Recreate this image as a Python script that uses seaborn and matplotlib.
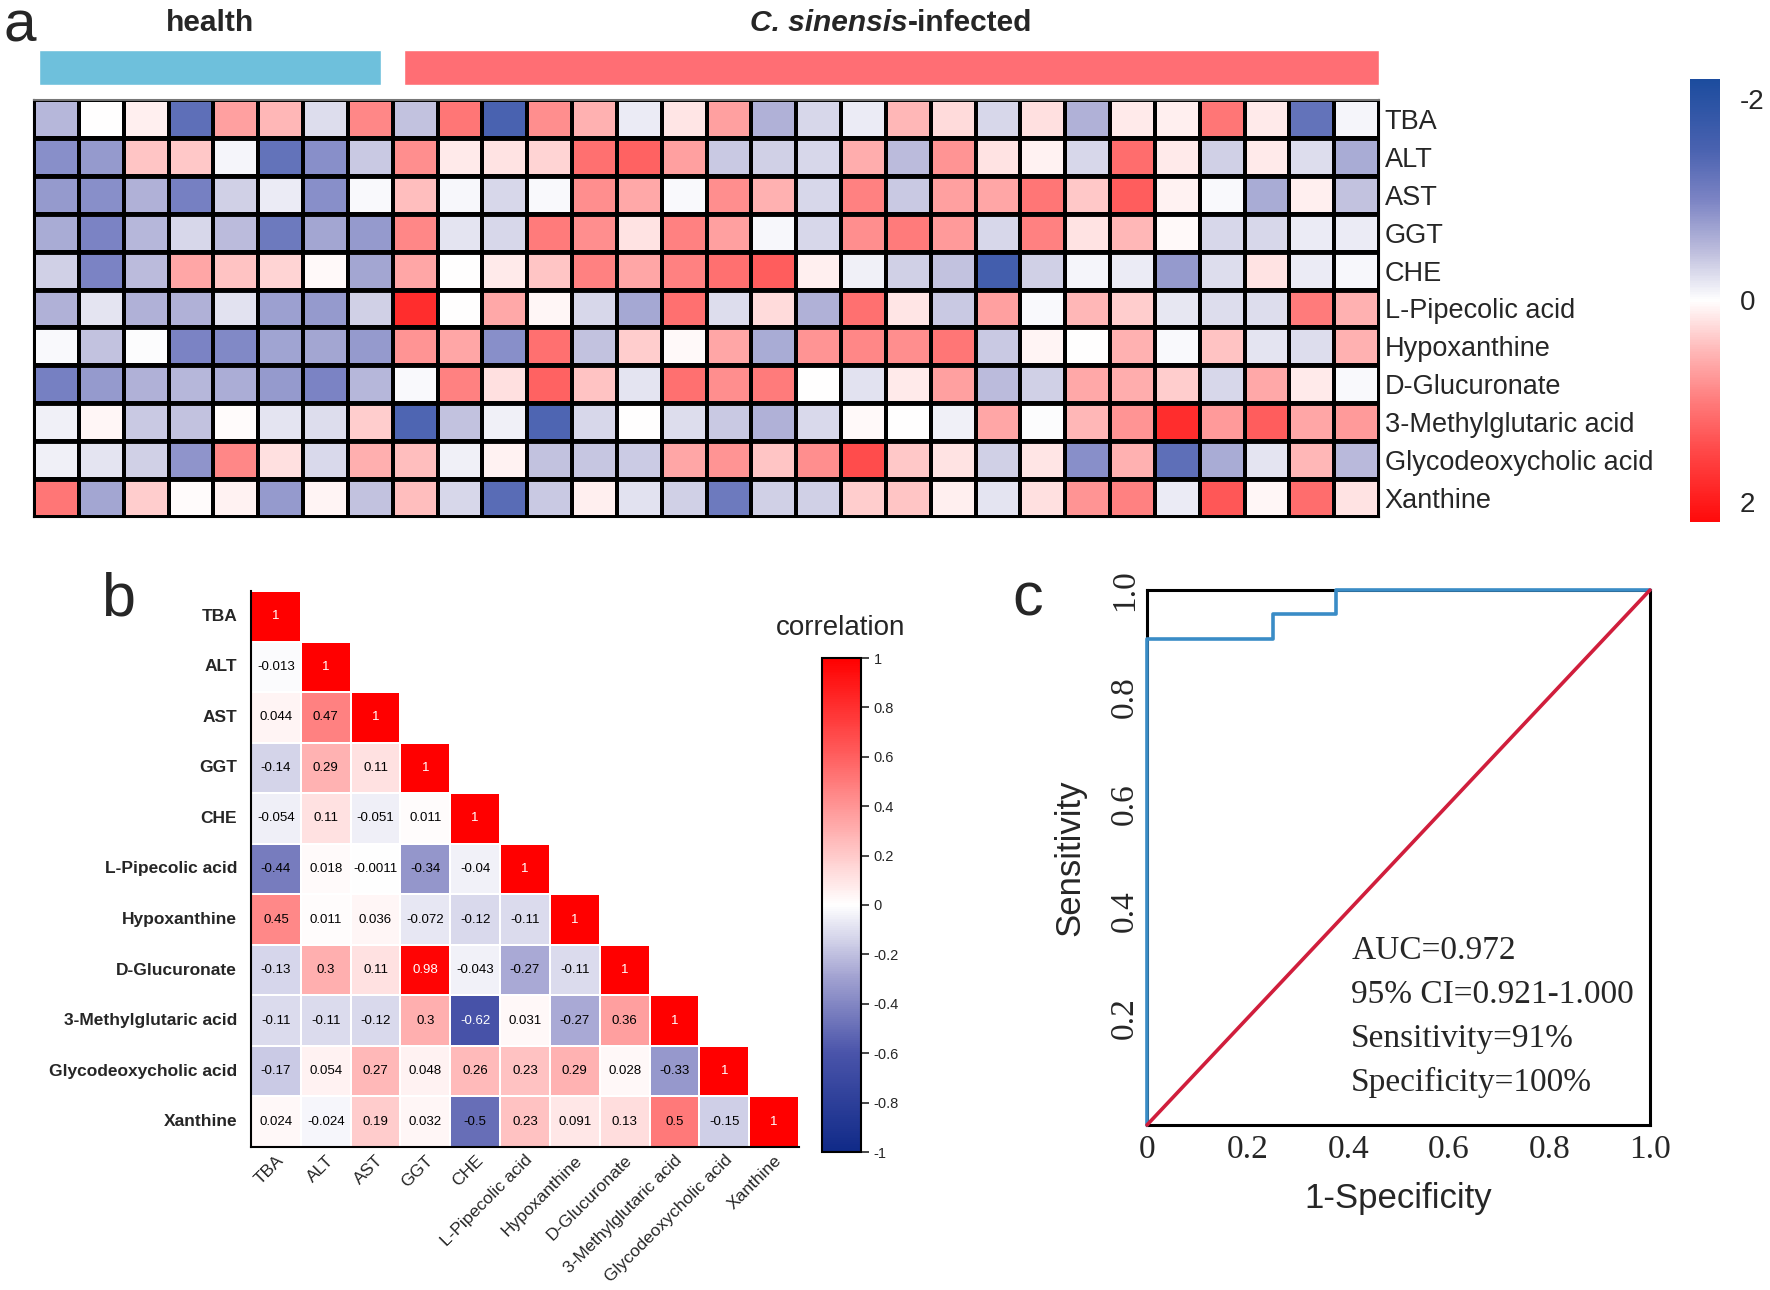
# plot.py
# Three-panel figure: z-score heatmap of biomarkers (a),
# correlation triangle (b) and ROC curve of the combined model (c)

import numpy as np
import pandas as pd
import matplotlib
matplotlib.use('Agg')
import matplotlib.pyplot as plt
import seaborn as sns
from matplotlib import font_manager
from matplotlib.colors import LinearSegmentedColormap
from matplotlib.offsetbox import TextArea, HPacker, AnnotationBbox

# ── DATA ──────────────────────────────────────────────────────────
metabolites = ['TBA', 'ALT', 'AST', 'GGT', 'CHE', 'L-Pipecolic acid',
               'Hypoxanthine', 'D-Glucuronate', '3-Methylglutaric acid',
               'Glycodeoxycholic acid', 'Xanthine']

group_names  = ['health', 'C. sinensis-infected']
group_sizes  = [8, 22]
group_colors = ['#6ec0dc', '#ff6e74']

# scaled values per sample (8 healthy, 22 infected)
tba  = [-0.55, 0.0, 0.12, -1.3, 0.7, 0.5, -0.25, 0.9, -0.45, 1.05,
        -1.5, 0.85, 0.55, -0.15, 0.18, 0.7, -0.6, -0.3, -0.15, 0.5,
        0.25, -0.3, 0.22, -0.6, 0.15, 0.12, 1.05, 0.15, -1.25, -0.08]
alt  = [-0.9, -0.8, 0.4, 0.38, -0.07, -1.25, -0.9, -0.4, 0.85, 0.15,
        0.2, 0.3, 1.1, 1.25, 0.7, -0.4, -0.35, -0.3, 0.6, -0.5,
        0.8, 0.2, 0.1, -0.3, 1.15, 0.15, -0.35, 0.15, -0.25, -0.65]
ast  = [-0.8, -0.9, -0.6, -1.05, -0.35, -0.15, -0.9, -0.05, 0.45, -0.06,
        -0.3, -0.05, 0.85, 0.62, -0.05, 0.85, 0.55, -0.3, 0.95, -0.4,
        0.7, 0.65, 1.05, 0.38, 1.3, 0.1, -0.05, -0.65, 0.12, -0.45]
ggt  = [-0.65, -1.0, -0.55, -0.3, -0.5, -1.15, -0.7, -0.8, 0.9, -0.2,
        -0.3, 1.0, 0.85, 0.2, 0.95, 0.7, -0.06, -0.3, 0.85, 1.0,
        0.75, -0.3, 0.95, 0.2, 0.5, 0.04, -0.3, -0.3, -0.15, -0.15]
che  = [-0.35, -1.0, -0.5, 0.65, 0.42, 0.3, 0.04, -0.7, 0.65, 0.0,
        0.15, 0.4, 0.95, 0.65, 0.95, 1.1, 1.3, 0.12, -0.12, -0.35,
        -0.45, -1.6, -0.35, -0.08, -0.15, -0.8, -0.25, 0.2, -0.15, -0.06]
lpa  = [-0.6, -0.2, -0.6, -0.6, -0.22, -0.75, -0.8, -0.35, 1.8, 0.0,
        0.62, 0.06, -0.3, -0.68, 1.1, -0.25, 0.25, -0.6, 1.1, 0.18,
        -0.4, 0.7, -0.04, 0.5, 0.35, -0.18, -0.25, -0.25, 1.0, 0.55]
hyp  = [-0.04, -0.45, -0.02, -1.0, -0.95, -0.72, -0.7, -0.8, 0.8, 0.65,
        -0.9, 1.1, -0.45, 0.35, 0.04, 0.65, -0.65, 0.8, 0.9, 0.85,
        1.05, -0.4, 0.08, 0.0, 0.55, -0.05, 0.42, -0.2, -0.25, 0.55]
dglu = [-1.05, -0.8, -0.6, -0.55, -0.62, -0.8, -1.0, -0.55, -0.05, 0.95,
        0.22, 1.25, 0.42, -0.2, 1.1, 0.85, 1.0, 0.0, -0.22, 0.15,
        0.7, -0.5, -0.35, 0.62, 0.6, 0.35, -0.3, 0.62, 0.15, -0.05]
mga  = [-0.12, 0.06, -0.4, -0.45, 0.02, -0.2, -0.25, 0.35, -1.45, -0.45,
        -0.12, -1.45, -0.3, 0.0, -0.25, -0.4, -0.6, -0.28, 0.04, 0.0,
        -0.12, 0.65, -0.03, 0.5, 0.8, 1.8, 0.75, 1.3, 0.65, 0.75]
gdca = [-0.12, -0.2, -0.35, -0.85, 0.9, 0.22, -0.28, 0.58, 0.45, -0.12,
        0.1, -0.45, -0.42, -0.38, 0.65, 0.8, 0.4, 0.85, 1.45, 0.38,
        0.2, -0.35, 0.18, -0.9, 0.55, -1.3, -0.65, -0.2, 0.5, -0.52]
xan  = [1.05, -0.7, 0.35, 0.02, 0.1, -0.8, 0.08, -0.45, 0.45, -0.3,
        -1.35, -0.4, 0.12, -0.22, -0.35, -1.15, -0.35, -0.35, 0.35, 0.4,
        0.12, -0.2, 0.22, 0.8, 0.95, -0.15, 1.35, 0.06, 1.15, 0.2]

# lower triangle of the correlation matrix (row by row)
corr_rows = [
    [1],
    [-0.013, 1],
    [0.044, 0.47, 1],
    [-0.14, 0.29, 0.11, 1],
    [-0.054, 0.11, -0.051, 0.011, 1],
    [-0.44, 0.018, -0.0011, -0.34, -0.04, 1],
    [0.45, 0.011, 0.036, -0.072, -0.12, -0.11, 1],
    [-0.13, 0.3, 0.11, 0.98, -0.043, -0.27, -0.11, 1],
    [-0.11, -0.11, -0.12, 0.3, -0.62, 0.031, -0.27, 0.36, 1],
    [-0.17, 0.054, 0.27, 0.048, 0.26, 0.23, 0.29, 0.028, -0.33, 1],
    [0.024, -0.024, 0.19, 0.032, -0.5, 0.23, 0.091, 0.13, 0.5, -0.15, 1],
]
corr_ticks = [-1, -0.8, -0.6, -0.4, -0.2, 0, 0.2, 0.4, 0.6, 0.8, 1]

# ROC curve points
roc_fpr = [0.0, 0.0, 0.25, 0.25, 0.375, 0.375, 1.0]
roc_tpr = [0.0, 0.909, 0.909, 0.955, 0.955, 1.0, 1.0]
roc_auc = 0.972
roc_ci = (0.921, 1.000)
roc_sens = 91
roc_spec = 100

# ── STYLE ─────────────────────────────────────────────────────────
sns.set_style('white')
available = {f.name for f in font_manager.fontManager.ttflist}
SANS = 'Liberation Sans' if 'Liberation Sans' in available else 'DejaVu Sans'
NARROW = 'Liberation Sans Narrow' if 'Liberation Sans Narrow' in available else SANS
SERIF = 'Liberation Serif' if 'Liberation Serif' in available else 'DejaVu Serif'
narrow_ok = NARROW != SANS
plt.rcParams['font.family'] = [SANS, 'DejaVu Sans']
plt.rcParams['axes.unicode_minus'] = False

W, H = 1770, 1290
fig = plt.figure(figsize=(W / 100, H / 100), dpi=100)
fig.patch.set_facecolor('white')


def px_axes(x0, y0, x1, y1):
    """axes from pixel box (top-left origin)"""
    return fig.add_axes([x0 / W, 1 - y1 / H, (x1 - x0) / W, (y1 - y0) / H])


# ── PANEL A: HEATMAP ──────────────────────────────────────────────
heat_df = pd.DataFrame([tba, alt, ast, ggt, che, lpa, hyp, dglu, mga, gdca, xan],
                       index=metabolites)

cmap_a = LinearSegmentedColormap.from_list('bwr_a', [
    (0.0, '#1c4c9e'), ((2.2 - 1.5) / 4.4, '#4a62b0'), ((2.2 - 1.0) / 4.4, '#7c84c4'),
    ((2.2 - 0.5) / 4.4, '#bcbcdc'), (0.5, '#ffffff'), ((2.2 + 0.5) / 4.4, '#ffb8b8'),
    ((2.2 + 1.0) / 4.4, '#ff7c7c'), ((2.2 + 1.5) / 4.4, '#ff4848'), (1.0, '#ff0a0a')])

ax_a = px_axes(34, 100, 1379, 517)
cax_a = px_axes(1690, 79, 1720, 522)
sns.heatmap(heat_df, ax=ax_a, cmap=cmap_a, vmin=-2.2, vmax=2.2,
            linewidths=1.5, linecolor='black', cbar_ax=cax_a,
            xticklabels=False, yticklabels=True)
ax_a.hlines(np.arange(1, len(metabolites)), 0, heat_df.shape[1],
            colors='black', lw=3.5)
ax_a.yaxis.tick_right()
ax_a.set_yticklabels(metabolites, rotation=0, ha='left', fontsize=19.5)
ax_a.tick_params(axis='y', length=0, pad=4)
for side, spine in ax_a.spines.items():
    spine.set_visible(True)
    spine.set_color('#777777' if side == 'top' else 'black')
    spine.set_linewidth(1.5)

cbar_a = ax_a.collections[0].colorbar
cbar_a.set_ticks([-2, 0, 2])
cbar_a.ax.invert_yaxis()
cbar_a.outline.set_visible(False)
cbar_a.ax.tick_params(length=0, labelsize=20, pad=14)

# group annotation bars
ax_bar = px_axes(34, 50, 1379, 85)
ax_bar.set_xlim(0, heat_df.shape[1])
ax_bar.set_ylim(0, 1)
ax_bar.axis('off')
starts = np.cumsum([0] + group_sizes[:-1])
for i, (name, size, color, start) in enumerate(zip(group_names, group_sizes,
                                                    group_colors, starts)):
    left = start + (0.12 if i == 0 else 0.25)
    right = start + size - (0.25 if i < len(group_sizes) - 1 else 0)
    ax_bar.barh(0.5, right - left, left=left, height=1, color=color)
    centre = (left + right) / 2
    if name.startswith('C. sinensis'):
        parts = HPacker(children=[
            TextArea('C. sinensis', textprops=dict(size=21.5, weight='bold',
                                                     style='italic', family=SANS)),
            TextArea('-infected', textprops=dict(size=21.5, weight='bold',
                                                   family=SANS))],
            pad=0, sep=0, align='baseline')
        ab = AnnotationBbox(parts, (centre, 1.77), xycoords='data',
                            frameon=False, box_alignment=(0.5, 0.5),
                            annotation_clip=False)
        ax_bar.add_artist(ab)
    else:
        ax_bar.text(centre, 1.77, name, ha='center', va='center',
                    size=21.5, weight='bold', clip_on=False)

# ── PANEL B: CORRELATION TRIANGLE ─────────────────────────────────
n = len(metabolites)
corr = np.zeros((n, n))
for i, row in enumerate(corr_rows):
    corr[i, :len(row)] = row
corr = corr + np.tril(corr, -1).T
corr_df = pd.DataFrame(corr, index=metabolites, columns=metabolites)
mask = np.triu(np.ones_like(corr, dtype=bool), k=1)
labels = np.array([[f'{v:g}' for v in row] for row in corr])

cmap_b = LinearSegmentedColormap.from_list('bwr_b', [
    (0.0, '#102a88'), (0.2, '#4a54aa'), (0.35, '#a0a0d0'), (0.5, '#ffffff'),
    (0.65, '#ffb0b0'), (0.8, '#ff6060'), (1.0, '#ff0000')])

ax_b = px_axes(251, 591, 799, 1147)
cax_b = px_axes(822, 658, 861, 1152)
sns.heatmap(corr_df, mask=mask, ax=ax_b, cmap=cmap_b, vmin=-1, vmax=1,
            annot=labels, fmt='', linewidths=1.2, linecolor='white',
            annot_kws={'size': 11 if narrow_ok else 9.5, 'family': NARROW},
            cbar_ax=cax_b)
for t in ax_b.texts:
    t.set_color('white' if abs(float(t.get_text())) > 0.6 else 'black')

for side in ['left', 'bottom']:
    ax_b.spines[side].set_visible(True)
    ax_b.spines[side].set_color('black')
    ax_b.spines[side].set_linewidth(1.5)
ax_b.set_yticklabels(metabolites, rotation=0, fontweight='bold',
                     family=NARROW, fontsize=15 if narrow_ok else 12.5)
ax_b.set_xticklabels(metabolites, rotation=45, ha='right', rotation_mode='anchor',
                     family=NARROW, fontsize=15.5 if narrow_ok else 12.5)
ax_b.tick_params(axis='y', length=0, pad=10)
ax_b.tick_params(axis='x', length=0, pad=4)

cbar_b = ax_b.collections[0].colorbar
cbar_b.set_ticks(corr_ticks)
cbar_b.set_ticklabels([f'{v:g}' for v in corr_ticks])
cbar_b.outline.set_edgecolor('black')
cbar_b.outline.set_linewidth(1.5)
cbar_b.ax.tick_params(length=6, width=1.2, labelsize=10.5, pad=3)
fig.text(841 / W, 1 - 628 / H, 'correlation', ha='center', va='center', size=20)

# ── PANEL C: ROC CURVE ────────────────────────────────────────────
ax_c = px_axes(1147, 590, 1650, 1125)
sns.lineplot(x=roc_fpr, y=roc_tpr, sort=False, estimator=None, ax=ax_c,
             color='#3a8cc6', lw=2.6, clip_on=False, zorder=3)
ax_c.plot([0, 1], [0, 1], color='#d01e3c', lw=2.6, clip_on=False, zorder=3.5)
ax_c.set_xlim(0, 1)
ax_c.set_ylim(0, 1)
x_ticks = [0, 0.2, 0.4, 0.6, 0.8, 1.0]
y_ticks = [0.2, 0.4, 0.6, 0.8, 1.0]
ax_c.set_xticks(x_ticks)
ax_c.set_xticklabels(['0'] + [f'{v:.1f}' for v in x_ticks[1:]],
                     family=SERIF, fontsize=24)
ax_c.set_yticks(y_ticks)
ax_c.set_yticklabels([f'{v:.1f}' for v in y_ticks], family=SERIF,
                     fontsize=24, rotation=90, va='center')
ax_c.tick_params(axis='x', length=0, pad=7)
ax_c.tick_params(axis='y', length=0, pad=5)
for spine in ax_c.spines.values():
    spine.set_visible(True)
    spine.set_color('black')
    spine.set_linewidth(2.2)

ax_c.set_xlabel('1-Specificity', fontsize=25)
ax_c.xaxis.set_label_coords(0.5, -0.138)
ax_c.xaxis.label.set_verticalalignment('center')
ax_c.set_ylabel('Sensitivity', fontsize=25)
ax_c.yaxis.set_label_coords(-0.153, 0.5)
ax_c.yaxis.label.set_verticalalignment('center')

stats_lines = [f'AUC={roc_auc:.3f}',
               f'95% CI={roc_ci[0]:.3f}-{roc_ci[1]:.3f}',
               f'Sensitivity={roc_sens}%',
               f'Specificity={roc_spec}%']
for k, line in enumerate(stats_lines):
    ax_c.text(0.406, 0.325 - 0.0817 * k, line, family=SERIF, fontsize=24,
              ha='left', va='center')

# ── PANEL LETTERS ─────────────────────────────────────────────────
fig.text(3 / W, 1 - 26 / H, 'a', ha='left', va='center', size=42)
fig.text(118 / W, 1 - 600 / H, 'b', ha='center', va='center', size=44)
fig.text(1028 / W, 1 - 600 / H, 'c', ha='center', va='center', size=44)

fig.savefig('out.png', dpi=100)
